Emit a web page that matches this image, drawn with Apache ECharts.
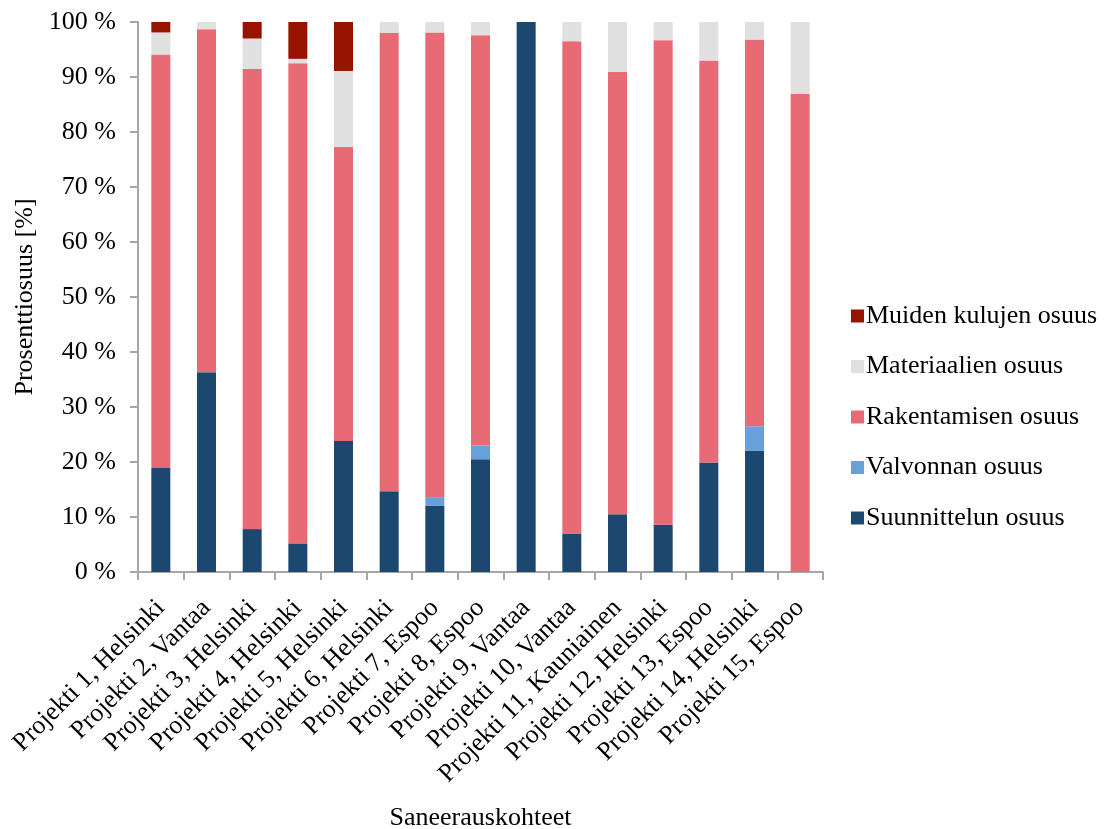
<!DOCTYPE html>
<html>
<head>
<meta charset="utf-8">
<script src="https://cdn.jsdelivr.net/npm/echarts@6/dist/echarts.min.js"></script>
<style>
  html, body { margin: 0; padding: 0; background: #ffffff; }
  #chart { width: 1113px; height: 829px; }
</style>
</head>
<body>
<div id="chart"></div>
<script>
// Saneerauskohteiden kustannusjakauma (%)
const categories = [
  'Projekti 1, Helsinki', 'Projekti 2, Vantaa', 'Projekti 3, Helsinki',
  'Projekti 4, Helsinki', 'Projekti 5, Helsinki', 'Projekti 6, Helsinki',
  'Projekti 7, Espoo', 'Projekti 8, Espoo', 'Projekti 9, Vantaa',
  'Projekti 10, Vantaa', 'Projekti 11, Kauniainen', 'Projekti 12, Helsinki',
  'Projekti 13, Espoo', 'Projekti 14, Helsinki', 'Projekti 15, Espoo'
];

const suunnittelu = [18.9, 36.3, 7.8, 5.2, 23.8, 14.7, 12.1, 20.5, 100, 7.0, 10.5, 8.6, 19.9, 22.1, 0];
const valvonta    = [0, 0, 0, 0, 0, 0, 1.5, 2.5, 0, 0, 0, 0, 0, 4.4, 0];
const rakentaminen = [75.2, 62.4, 83.7, 87.3, 53.5, 83.3, 84.5, 74.6, 0, 89.5, 80.4, 88.1, 73.1, 70.3, 86.9];
const materiaalit = [4.0, 1.3, 5.5, 0.8, 13.8, 2.0, 1.9, 2.4, 0, 3.5, 9.1, 3.3, 7.0, 3.2, 13.1];
const muutKulut   = [1.9, 0, 3.0, 6.7, 8.9, 0, 0, 0, 0, 0, 0, 0, 0, 0, 0];

const yTicks = [0, 10, 20, 30, 40, 50, 60, 70, 80, 90, 100];

const seriesDefs = [
  { name: 'Suunnittelun osuus', data: suunnittelu, color: '#1c4870' },
  { name: 'Valvonnan osuus', data: valvonta, color: '#66a1dc' },
  { name: 'Rakentamisen osuus', data: rakentaminen, color: '#e86a75' },
  { name: 'Materiaalien osuus', data: materiaalit, color: '#e0e0e0' },
  { name: 'Muiden kulujen osuus', data: muutKulut, color: '#961300' }
];

const serif = '"Liberation Serif", "DejaVu Serif", serif';
const axisGray = '#a6a6a6';
const fs = 26;

const chart = echarts.init(document.getElementById('chart'), null, { renderer: 'canvas' });

chart.setOption({
  animation: false,
  backgroundColor: '#ffffff',
  textStyle: { fontFamily: serif },
  grid: { left: 138, right: 290, top: 22, bottom: 257, containLabel: false, outerBoundsMode: 'none' },
  legend: {
    orient: 'vertical',
    left: 846,
    top: 298,
    itemWidth: 13,
    itemHeight: 13,
    itemGap: 24.5,
    icon: 'rect',
    data: ['Muiden kulujen osuus', 'Materiaalien osuus', 'Rakentamisen osuus', 'Valvonnan osuus', 'Suunnittelun osuus'],
    textStyle: { fontFamily: serif, fontSize: fs, color: '#000', lineHeight: 26, padding: [0, 0, 0, -3] }
  },
  xAxis: {
    type: 'category',
    data: categories,
    name: 'Saneerauskohteet',
    nameLocation: 'middle',
    nameGap: 233,
    nameTextStyle: { fontFamily: serif, fontSize: fs, color: '#000' },
    axisLine: { lineStyle: { color: axisGray, width: 2 } },
    axisTick: { show: true, length: 8, lineStyle: { color: axisGray, width: 2 } },
    axisLabel: {
      rotate: 45,
      interval: 0,
      margin: 32,
      fontFamily: serif,
      fontSize: fs,
      color: '#000'
    }
  },
  yAxis: {
    type: 'value',
    min: 0,
    max: 100,
    interval: 10,
    name: 'Prosenttiosuus [%]',
    nameLocation: 'middle',
    nameGap: 100,
    nameRotate: 90,
    nameTextStyle: { fontFamily: serif, fontSize: fs, color: '#000' },
    splitLine: { show: false },
    axisLine: { show: true, lineStyle: { color: axisGray, width: 2 } },
    axisTick: { show: true, length: 8, lineStyle: { color: axisGray, width: 2 } },
    axisLabel: {
      margin: 22,
      fontFamily: serif,
      fontSize: fs,
      color: '#000',
      formatter: v => (yTicks.includes(v) ? v + ' %' : '')
    }
  },
  series: seriesDefs.map(s => ({
    name: s.name,
    type: 'bar',
    stack: 'total',
    data: s.data,
    barWidth: 19,
    itemStyle: { color: s.color },
    emphasis: { disabled: true }
  }))
});
</script>
</body>
</html>
